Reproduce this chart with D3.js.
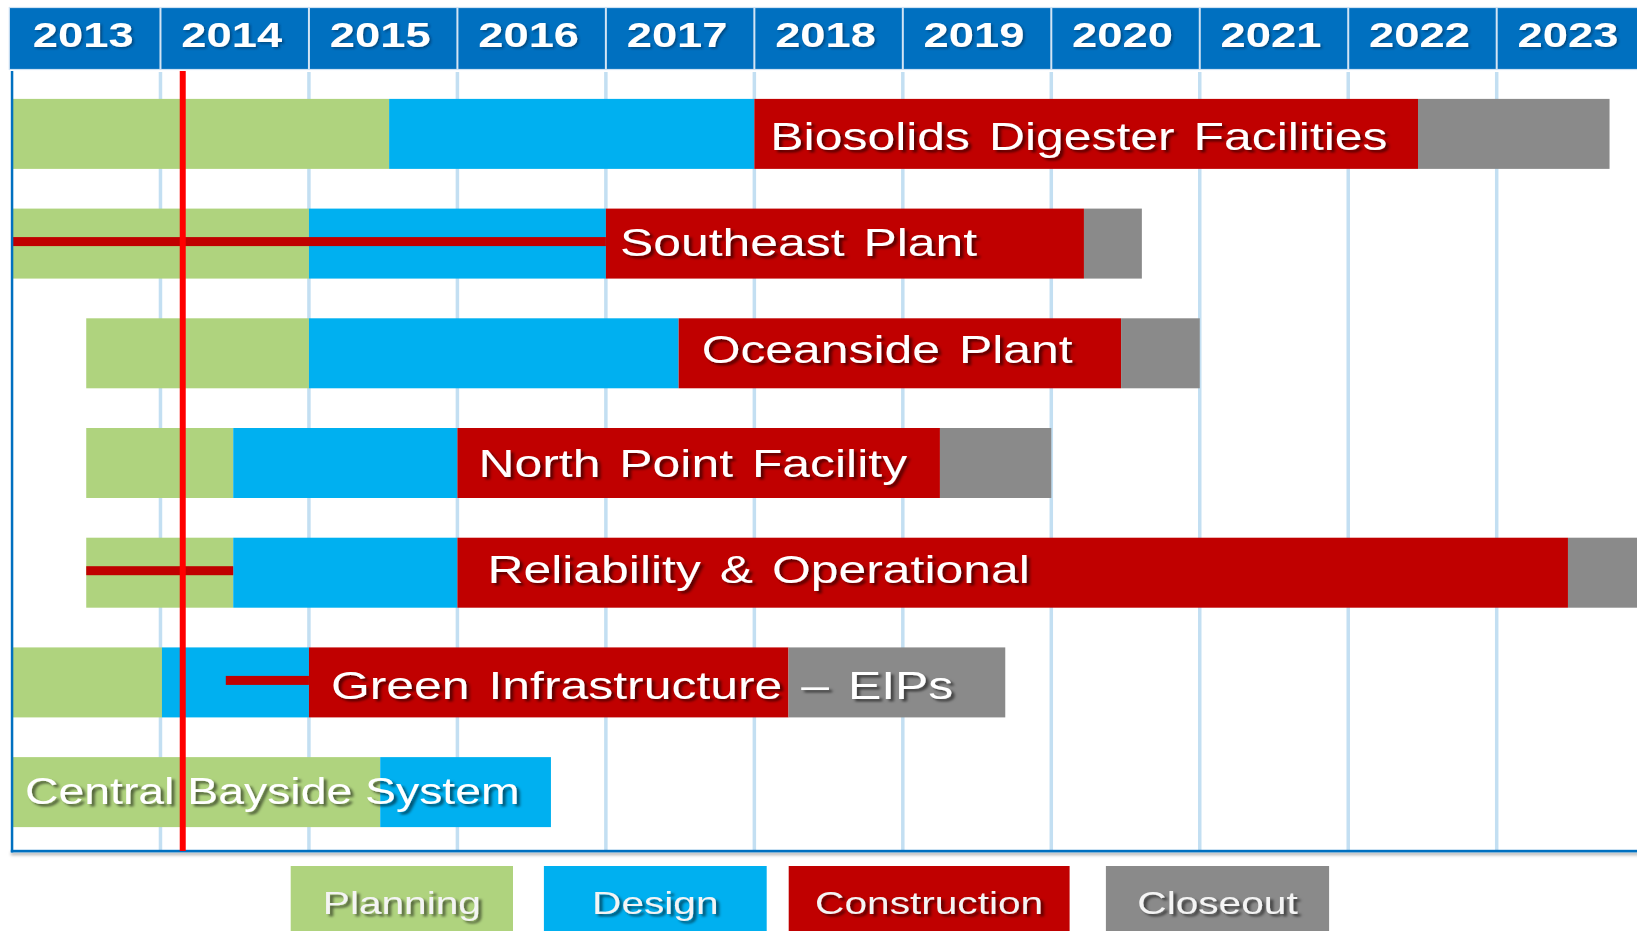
<!DOCTYPE html>
<html>
<head>
<meta charset="utf-8">
<script src="https://cdn.jsdelivr.net/npm/d3@7"></script>
<style>
  html, body { margin: 0; padding: 0; background: #ffffff; }
  svg { display: block; }
  text { font-family: "Liberation Sans", Arial, sans-serif; }
</style>
</head>
<body>
<svg id="chart" width="1637" height="931"></svg>
<script>
// ---------------- DATA ----------------
const years = [2013, 2014, 2015, 2016, 2017, 2018, 2019, 2020, 2021, 2022, 2023];
const projects = [
  "Biosolids Digester Facilities",
  "Southeast Plant",
  "Oceanside Plant",
  "North Point Facility",
  "Reliability & Operational",
  "Green Infrastructure \u2013 EIPs",
  "Central Bayside System"
];
const phases = ["Planning", "Design", "Construction", "Closeout"];
const planningStart     = [2013.00, 2013.00, 2013.50, 2013.50, 2013.50, 2013.00, 2013.00];
const designStart       = [2015.54, 2015.00, 2015.00, 2014.49, 2014.49, 2014.01, 2015.48];
const constructionStart = [2018.00, 2017.00, 2017.49, 2016.00, 2016.00, 2015.00, null];
const closeoutStart     = [2022.47, 2020.22, 2020.47, 2019.25, 2023.48, 2018.23, null];
const projectEnd        = [2023.76, 2020.61, 2021.00, 2020.00, 2024.30, 2019.69, 2016.63];
const progressStart     = [null, 2013.00, null, null, 2013.50, 2014.44, null];
const progressEnd       = [null, 2017.00, null, null, 2014.49, 2015.00, null];
const statusDate = 2014.15;

// ---------------- STYLE / LAYOUT ----------------
const phaseColors = ["#afd37e", "#00b0f0", "#c00000", "#8a8a8a"];
const W = 1637, H = 931;
const headerTop = 7.5, headerBottom = 69.5;
const plotTop = 71, plotBottom = 851, plotLeft = 12;
const labelInset = [16, 14, 23, 21, 30, 22, 13];
const labelDy = [16, 12.5, 10, 14, 10, 17, 12];
const legendX = [[290.7, 513], [543.9, 766.7], [788.7, 1069.6], [1105.9, 1329.1]];
const stretch = 1.26;

const svg = d3.select("#chart");

const defs = svg.append("defs");
const f = defs.append("filter").attr("id", "shadow").attr("x", "-10%").attr("y", "-30%").attr("width", "130%").attr("height", "170%");
f.append("feDropShadow").attr("dx", 2.5).attr("dy", 2.5).attr("stdDeviation", 1.1)
  .attr("flood-color", "#000").attr("flood-opacity", 0.55);
const f2 = defs.append("filter").attr("id", "shadowLight").attr("x", "-10%").attr("y", "-30%").attr("width", "130%").attr("height", "170%");
f2.append("feDropShadow").attr("dx", 1.5).attr("dy", 1.5).attr("stdDeviation", 0.8)
  .attr("flood-color", "#002040").attr("flood-opacity", 0.5);
const f3 = defs.append("filter").attr("id", "borderShadow").attr("x", "-5%").attr("y", "-100%").attr("width", "110%").attr("height", "500%");
f3.append("feDropShadow").attr("dx", 0).attr("dy", 2.5).attr("stdDeviation", 1.8)
  .attr("flood-color", "#000").attr("flood-opacity", 0.35);

const x = d3.scaleLinear().domain([2013, 2024]).range([plotLeft, plotLeft + 11 * 148.47]);
const y = d3.scaleBand().domain(projects).range([73, 853]).paddingInner(0.362).paddingOuter(0.236);

// Header
svg.append("rect").attr("x", 9.3).attr("y", headerTop).attr("width", W - 9.3 + 10).attr("height", headerBottom - headerTop)
  .attr("fill", "#0070c0").attr("stroke", "#cfe2f3").attr("stroke-width", 1.2);
svg.selectAll(".hdiv").data(years.slice(1)).join("line")
  .attr("x1", d => x(d)).attr("x2", d => x(d))
  .attr("y1", headerTop).attr("y2", headerBottom)
  .attr("stroke", "#d2e4f4").attr("stroke-width", 2);
svg.selectAll(".hyear").data(years).join("text")
  .attr("transform", d => `translate(${(x(d) + x(d + 1)) / 2 - 3},46.7) scale(${stretch},1)`)
  .attr("text-anchor", "middle")
  .attr("font-size", 36).attr("font-weight", "bold")
  .attr("fill", "#ffffff").attr("filter", "url(#shadowLight)")
  .text(d => d);

// Grid lines
svg.selectAll(".grid").data(years.slice(1)).join("line")
  .attr("x1", d => x(d)).attr("x2", d => x(d))
  .attr("y1", plotTop + 1).attr("y2", plotBottom)
  .attr("stroke", "#c3dff2").attr("stroke-width", 3.5);

// Bars
const segments = [];
projects.forEach((p, i) => {
  const starts = [planningStart[i], designStart[i], constructionStart[i], closeoutStart[i]];
  const present = starts.map((s, k) => ({ s, k })).filter(o => o.s !== null);
  present.forEach((o, j) => {
    const end = j + 1 < present.length ? present[j + 1].s : projectEnd[i];
    segments.push({ project: p, phase: o.k, start: o.s, end });
  });
});
svg.selectAll(".seg").data(segments).join("rect")
  .attr("x", d => x(d.start))
  .attr("y", d => y(d.project))
  .attr("width", d => x(d.end) - x(d.start))
  .attr("height", y.bandwidth())
  .attr("fill", d => phaseColors[d.phase]);

// Progress lines
const prog = projects.map((p, i) => ({ p, s: progressStart[i], e: progressEnd[i] })).filter(d => d.s !== null);
svg.selectAll(".prog").data(prog).join("rect")
  .attr("x", d => x(d.s))
  .attr("y", d => y(d.p) + y.bandwidth() / 2 - 6.5)
  .attr("width", d => x(d.e) - x(d.s))
  .attr("height", 9)
  .attr("fill", "#c00000");

// Frame (left and bottom borders)
svg.append("rect").attr("x", plotLeft - 1.2).attr("y", plotBottom - 1.2).attr("width", W - plotLeft + 10).attr("height", 2.6)
  .attr("fill", "#0070c0").attr("filter", "url(#borderShadow)");
svg.append("rect").attr("x", plotLeft - 1.2).attr("y", plotTop).attr("width", 2.5).attr("height", plotBottom - plotTop + 1.4)
  .attr("fill", "#0070c0");

// Status date line
svg.append("line").attr("x1", x(statusDate)).attr("x2", x(statusDate))
  .attr("y1", plotTop).attr("y2", plotBottom)
  .attr("stroke", "#ff0000").attr("stroke-width", 6);

// Labels
svg.selectAll(".lbl").data(projects).join("text")
  .attr("transform", (d, i) => {
    const anchor = constructionStart[i] !== null ? constructionStart[i] : planningStart[i];
    return `translate(${x(anchor) + labelInset[i]},${y(d) + y.bandwidth() / 2 + labelDy[i]}) scale(${stretch},1)`;
  })
  .attr("font-size", (d, i) => constructionStart[i] !== null ? 39.6 : 36.8)
  .attr("word-spacing", (d, i) => constructionStart[i] !== null ? 4 : 0)
  .attr("fill", "#ffffff")
  .attr("filter", "url(#shadow)")
  .text(d => d);

// Legend
const lg = svg.selectAll(".lg").data(phases).join("g");
lg.append("rect")
  .attr("x", (d, i) => legendX[i][0]).attr("y", 866)
  .attr("width", (d, i) => legendX[i][1] - legendX[i][0]).attr("height", 70)
  .attr("fill", (d, i) => phaseColors[i]);
lg.append("text")
  .attr("transform", (d, i) => `translate(${(legendX[i][0] + legendX[i][1]) / 2},914) scale(1.27,1)`)
  .attr("text-anchor", "middle")
  .attr("font-size", 32)
  .attr("fill", "#f4f4f4")
  .attr("filter", "url(#shadow)")
  .text(d => d);
</script>
</body>
</html>
